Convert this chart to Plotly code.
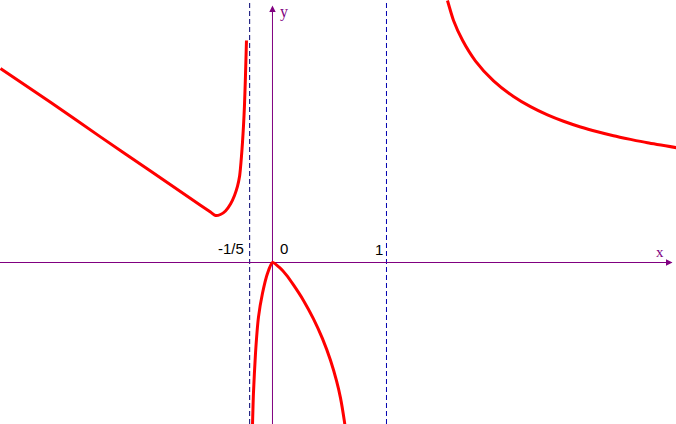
import plotly.graph_objects as go

left_x = [-2.386, -1.947, -1.509, -1.070, -0.632, -0.544, -0.500, -0.456, -0.412, -0.368, -0.333, -0.307,
          -0.289, -0.281, -0.272, -0.263, -0.254, -0.246, -0.237, -0.228]
left_y = [1.702, 1.405, 1.102, 0.802, 0.502, 0.442, 0.412, 0.421, 0.452, 0.513, 0.588, 0.667,
          0.754, 0.825, 0.930, 1.053, 1.202, 1.368, 1.632, 1.947]

mid_x = [-0.175, -0.167, -0.149, -0.123, -0.088, -0.044, 0.0, 0.0614, 0.1228, 0.1842, 0.2719, 0.3596,
         0.4386, 0.5088, 0.5614, 0.5965, 0.6316, 0.6404]
mid_y = [-1.421, -1.149, -0.798, -0.482, -0.272, -0.096, 0.0, -0.043, -0.1105, -0.1965, -0.3325, -0.4947,
         -0.6684, -0.8579, -1.0368, -1.1877, -1.3982, -1.465]

right_x = [1.535, 1.588, 1.667, 1.781, 1.939, 2.114, 2.263, 2.412, 2.553, 2.702, 2.851, 2.991, 3.140, 3.289, 3.544]
right_y = [2.298, 2.123, 1.949, 1.767, 1.593, 1.456, 1.367, 1.295, 1.239, 1.189, 1.147, 1.112, 1.080, 1.050, 1.007]

asymptotes = [-0.2, 1.0]
tick_labels = ["-1/5", "0", "1"]

X_MIN, X_MAX = -2.390, 3.5395
Y_MIN, Y_MAX = -1.4167, 2.3026

fig = go.Figure()
for xs, ys in [(left_x, left_y), (mid_x, mid_y), (right_x, right_y)]:
    fig.add_trace(go.Scatter(x=xs, y=ys, mode="lines",
                             line=dict(color="#ff0000", width=3, shape="spline", smoothing=0.6),
                             hoverinfo="skip", showlegend=False))

# dashed asymptotes
dash_colors = ["#000070", "#0000b0"]
for a, c in zip(asymptotes, dash_colors):
    fig.add_shape(type="line", x0=a, x1=a, y0=Y_MIN, y1=Y_MAX, xref="x", yref="y",
                  line=dict(color=c, width=1, dash="5px,3px"), layer="below")

# axes lines
fig.add_shape(type="line", x0=X_MIN, x1=3.50, y0=0, y1=0, xref="x", yref="y",
              line=dict(color="#800080", width=1), layer="below")
fig.add_shape(type="line", x0=0, x1=0, y0=Y_MIN, y1=2.24, xref="x", yref="y",
              line=dict(color="#800080", width=1), layer="below")
# arrow heads
fig.add_annotation(x=3.509, y=0, ax=3.40, ay=0, xref="x", yref="y", axref="x", ayref="y",
                   text="", showarrow=True, arrowhead=2, arrowsize=1.3, arrowwidth=1,
                   arrowcolor="#800080")
fig.add_annotation(x=0, y=2.254, ax=0, ay=2.15, xref="x", yref="y", axref="x", ayref="y",
                   text="", showarrow=True, arrowhead=2, arrowsize=1.3, arrowwidth=1,
                   arrowcolor="#800080")

# tick labels
label_pos = [(-0.364, 0.123), (0.105, 0.123), (0.934, 0.114)]
for t, (lx, ly) in zip(tick_labels, label_pos):
    fig.add_annotation(x=lx, y=ly, text=t, showarrow=False, xref="x", yref="y",
                       font=dict(family="Liberation Sans, Arial, sans-serif", size=15, color="#000000"))

fig.add_annotation(x=3.399, y=0.092, text="x", showarrow=False, xref="x", yref="y",
                   font=dict(family="Liberation Serif, Times New Roman, serif", size=15, color="#800080"))
fig.add_annotation(x=0.105, y=2.193, text="y", showarrow=False, xref="x", yref="y",
                   font=dict(family="Liberation Serif, Times New Roman, serif", size=16, color="#800080"))

fig.update_xaxes(range=[X_MIN, X_MAX], visible=False, showgrid=False, zeroline=False)
fig.update_yaxes(range=[Y_MIN, Y_MAX], visible=False, showgrid=False, zeroline=False)
fig.update_layout(width=676, height=424, margin=dict(l=0, r=0, t=0, b=0),
                  plot_bgcolor="white", paper_bgcolor="white")

fig.write_html("out.html", config={"displayModeBar": False},
               post_script="document.body.style.margin='0';document.body.style.overflow='hidden';")
